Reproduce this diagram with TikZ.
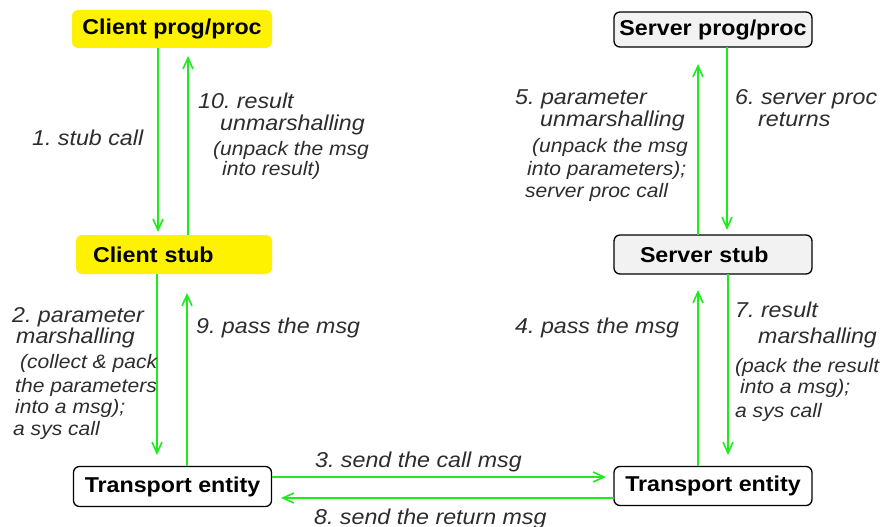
\documentclass[tikz,border=0pt]{standalone}
\usepackage{fontspec}
\setmainfont[FakeStretch=1.08]{Liberation Sans}
\usetikzlibrary{arrows.meta}
\definecolor{arrgreen}{RGB}{30,235,30}
\definecolor{boxgrey}{RGB}{242,242,242}
\definecolor{txtgrey}{RGB}{45,45,45}
\tikzset{
  ybox/.style={fill=yellow, rounded corners=6pt, inner sep=0pt, font=\fontsize{21.5}{24}\selectfont\bfseries},
  gbox/.style={fill=boxgrey, draw=black, line width=1.3pt, rounded corners=6pt, inner sep=0pt, font=\fontsize{21.5}{24}\selectfont\bfseries},
  wbox/.style={fill=white, draw=black, line width=1.3pt, rounded corners=6pt, inner sep=0pt, font=\fontsize{21.5}{24}\selectfont\bfseries},
  flow/.style={draw=arrgreen, line width=1.8pt, -{Straight Barb[length=11pt,width=10pt,line width=1.6pt]}},
  lbl/.style={anchor=base west, inner sep=0pt, text=txtgrey, font=\fontsize{21.5}{24}\selectfont\itshape},
  sml/.style={anchor=base west, inner sep=0pt, text=txtgrey, font=\fontsize{19.5}{22}\selectfont\itshape},
}
\begin{document}
\frenchspacing
\begin{tikzpicture}[x=1pt,y=-1pt]
\useasboundingbox[fill=white] (0,0) rectangle (887,527);
% boxes
\node[ybox, minimum width=200pt, minimum height=38pt] (cpp) at (172,29) {Client prog/proc};
\node[gbox, minimum width=198pt, minimum height=35pt] (spp) at (713,29.5) {Server prog/proc};
\node[ybox, text width=162pt, inner xsep=17pt, align=left, minimum height=39pt] (cs) at (174,254.5) {Client stub};
\node[gbox, text width=146pt, inner xsep=26pt, align=left, minimum height=39pt] (ss) at (713,254.5) {Server stub};
\node[wbox, minimum width=198pt, minimum height=40pt] (tel) at (172.5,486.5) {Transport entity};
\node[wbox, minimum width=198pt, minimum height=39pt] (ter) at (713,486) {Transport entity};
% coordinates for arrow ends
\coordinate (a1s) at (158,48);  \coordinate (a1e) at (158,232);
\coordinate (a10s) at (188,235); \coordinate (a10e) at (188,56);
\coordinate (a2s) at (157,274); \coordinate (a2e) at (157,455);
\coordinate (a9s) at (187,466); \coordinate (a9e) at (187,293);
\coordinate (a5s) at (698,235); \coordinate (a5e) at (698,64);
\coordinate (a6s) at (727,47);  \coordinate (a6e) at (727,230);
\coordinate (a4s) at (698,466); \coordinate (a4e) at (698,290);
\coordinate (a7s) at (728,274); \coordinate (a7e) at (728,455);
\coordinate (a3s) at (272,477); \coordinate (a3e) at (606,477);
\coordinate (a8s) at (614,498); \coordinate (a8e) at (281,498);
\draw[flow] (a1s) -- (a1e);
\draw[flow] (a10s) -- (a10e);
\draw[flow] (a2s) -- (a2e);
\draw[flow] (a9s) -- (a9e);
\draw[flow] (a5s) -- (a5e);
\draw[flow] (a6s) -- (a6e);
\draw[flow] (a4s) -- (a4e);
\draw[flow] (a7s) -- (a7e);
\draw[flow] (a3s) -- (a3e);
\draw[flow] (a8s) -- (a8e);
% labels
\node[lbl] (t1) at (32,145) {1. stub call};
\node[lbl] (t10a) at (198,108) {10. result};
\node[lbl] (t10b) at (220,130) {unmarshalling};
\node[sml] (t10c) at (213,155) {(unpack the msg};
\node[sml] (t10d) at (222,175) {into result)};
\node[lbl] (t5a) at (515,105) {5. parameter};
\node[lbl] (t5b) at (540,127) {unmarshalling};
\node[sml] (t5c) at (532,153) {(unpack the msg};
\node[sml] (t5d) at (527,175) {into parameters);};
\node[sml] (t5e) at (525,197) {server proc call};
\node[lbl] (t6a) at (735,105) {6. server proc};
\node[lbl] (t6b) at (758,127) {returns};
\node[lbl] (t2a) at (12,322) {2. parameter};
\node[lbl] (t2b) at (16,343) {marshalling};
\node[sml] (t2c) at (20,368) {(collect \& pack};
\node[sml] (t2d) at (15,392) {the parameters};
\node[sml] (t2e) at (15,413) {into a msg);};
\node[sml] (t2f) at (13,435) {a sys call};
\node[lbl] (t9) at (196,333) {9. pass the msg};
\node[lbl] (t4) at (515,333) {4. pass the msg};
\node[lbl] (t7a) at (735,317) {7. result};
\node[lbl] (t7b) at (758,343) {marshalling};
\node[sml] (t7c) at (735,372) {(pack the result};
\node[sml] (t7d) at (740,393) {into a msg);};
\node[sml] (t7e) at (735,417) {a sys call};
\node[lbl] (t3) at (315,467) {3. send the call msg};
\node[lbl] (t8) at (314,524) {8. send the return msg};
\end{tikzpicture}
\end{document}
